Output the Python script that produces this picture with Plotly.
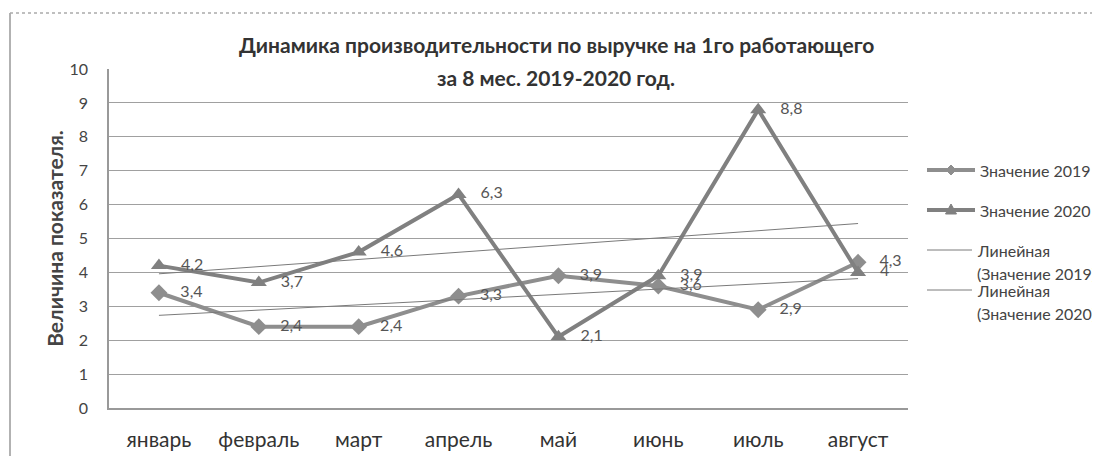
import numpy as np
import plotly.graph_objects as go

months = ["январь", "февраль", "март", "апрель", "май", "июнь", "июль", "август"]
values_2019 = [3.4, 2.4, 2.4, 3.3, 3.9, 3.6, 2.9, 4.3]
values_2020 = [4.2, 3.7, 4.6, 6.3, 2.1, 3.9, 8.8, 4.0]
y_ticks = [0, 1, 2, 3, 4, 5, 6, 7, 8, 9, 10]

title_line1 = "Динамика производительности по выручке на 1го работающего"
title_line2 = "за 8 мес. 2019-2020 год."
y_title = "Величина показателя."
legend_names = ["Значение 2019", "Значение 2020",
                ["Линейная", "(Значение 2019)"], ["Линейная", "(Значение 2020)"]]

# page has an 8px body margin; figure coordinates = page coordinates - OFF
OFF = 8
W, H = 1100 - OFF, 456 - OFF
PL, PR, PT, PB = 109, 908, 69, 408      # plot area in page pixels
L, R, T, B = PL - OFF, W - (PR - OFF), PT - OFF, H - (PB - OFF)


def fmt(v):
    return "\u00a0\u00a0\u00a0" + f"{v:g}".replace(".", ",")


def trend(vals):
    x = np.arange(1, len(vals) + 1)
    k, b = np.polyfit(x, vals, 1)
    return list(k * x + b)


FONT = "Lato, 'Open Sans', sans-serif"
c19 = "#8e8e8e"
c20 = "#808080"
ctr = "#7a7a7a"

fig = go.Figure()
fig.add_trace(go.Scatter(
    x=months, y=values_2019, mode="lines+markers+text", name=legend_names[0],
    line=dict(color=c19, width=4), marker=dict(symbol="diamond", size=13, color=c19),
    text=[fmt(v) for v in values_2019], textposition="middle right",
    textfont=dict(size=16, color="#555", family=FONT),
))
fig.add_trace(go.Scatter(
    x=months, y=values_2020, mode="lines+markers+text", name=legend_names[1],
    line=dict(color=c20, width=4), marker=dict(symbol="triangle-up", size=14, color=c20),
    text=[fmt(v) for v in values_2020], textposition="middle right",
    textfont=dict(size=16, color="#555", family=FONT),
))
fig.add_trace(go.Scatter(
    x=months, y=trend(values_2019), mode="lines", name=" ".join(legend_names[2]),
    line=dict(color=ctr, width=1), hoverinfo="skip",
))
fig.add_trace(go.Scatter(
    x=months, y=trend(values_2020), mode="lines", name=" ".join(legend_names[3]),
    line=dict(color=ctr, width=1), hoverinfo="skip",
))


def px_x(p):
    return (p - PL) / (PR - PL)


def px_y(p):
    return (PB - p) / (PB - PT)


LEG_FONT = dict(size=16, color="#444", family=FONT)
annotations = [
    dict(text=f"<b>{title_line1}</b>", x=px_x(556), y=px_y(45), xref="paper", yref="paper",
         xanchor="center", yanchor="middle",
         showarrow=False, font=dict(size=21, color="#333", family=FONT)),
    dict(text=f"<b>{title_line2}</b>", x=px_x(556), y=px_y(77), xref="paper", yref="paper",
         xanchor="center", yanchor="middle",
         showarrow=False, font=dict(size=21, color="#333", family=FONT)),
]
shapes = [
    dict(type="line", xref="paper", yref="paper", x0=px_x(10), x1=px_x(10),
         y0=px_y(13), y1=px_y(470), line=dict(color="#999", width=1.5)),
    dict(type="line", xref="paper", yref="paper", x0=px_x(10), x1=px_x(1110),
         y0=px_y(13), y1=px_y(13), line=dict(color="#aaa", width=1.5, dash="dot")),
]

# manual legend (placed exactly like the reference)
LX0, LX1, TX = 927, 975, 978
leg_rows = [170, 210]
for name, yy, col, sym in zip(legend_names[:2], leg_rows, [c19, c20], ["d", "t"]):
    shapes.append(dict(type="line", xref="paper", yref="paper", x0=px_x(LX0), x1=px_x(LX1),
                       y0=px_y(yy), y1=px_y(yy), line=dict(color=col, width=4)))
    if sym == "d":
        path = "M0,-5 L5,0 L0,5 L-5,0 Z"
    else:
        path = "M0,6 L5.5,-4 L-5.5,-4 Z"
    shapes.append(dict(type="path", xref="paper", yref="paper", xsizemode="pixel",
                       ysizemode="pixel", xanchor=px_x((LX0 + LX1) / 2), yanchor=px_y(yy),
                       path=path, fillcolor=col, line=dict(color=col, width=1)))
    annotations.append(dict(text=name, x=px_x(TX), y=px_y(yy), xref="paper", yref="paper",
                            xanchor="left", yanchor="middle", showarrow=False, font=LEG_FONT))
for lines, yy in zip(legend_names[2:], [250, 290]):
    shapes.append(dict(type="line", xref="paper", yref="paper", x0=px_x(LX0), x1=px_x(LX1 - 3),
                       y0=px_y(yy), y1=px_y(yy), line=dict(color=ctr, width=1)))
    for i, t in enumerate(lines):
        annotations.append(dict(text=t, x=px_x(TX - 3), y=px_y(yy + 23 * i), xref="paper",
                                yref="paper", xanchor="left", yanchor="middle",
                                showarrow=False, font=LEG_FONT))

fig.update_layout(
    width=W, height=H,
    margin=dict(l=L, r=R, t=T, b=B, autoexpand=False),
    paper_bgcolor="white", plot_bgcolor="white",
    separators=", ",
    showlegend=False,
    xaxis=dict(
        type="category", showline=True, linecolor="#999", linewidth=1.5, automargin=False,
        showgrid=False, ticks="", tickfont=dict(size=21, color="#333", family=FONT),
        range=[-0.5, 7.5], ticklabelstandoff=12,
    ),
    yaxis=dict(
        range=[0, 10], tickvals=y_ticks, showline=True, linecolor="#999", linewidth=1.5,
        showgrid=True, gridcolor="#a0a0a0", gridwidth=1, zeroline=False, automargin=False,
        tickfont=dict(size=16, color="#444", family=FONT), ticks="", ticklabelstandoff=16,
        title=dict(text=f"<b>{y_title}</b>", font=dict(size=21, color="#444", family=FONT), standoff=0),
    ),
    annotations=annotations,
    shapes=shapes,
)

fig.write_html("out.html")
